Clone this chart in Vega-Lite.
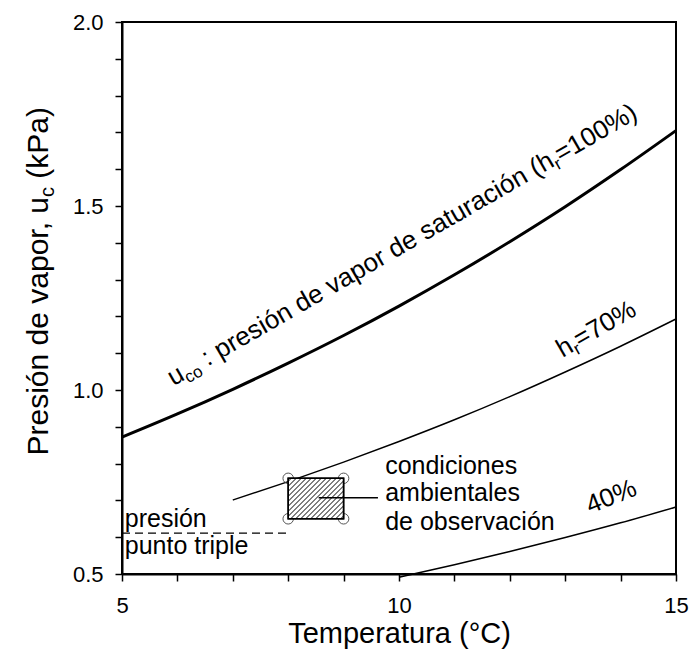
{
  "$schema": "https://vega.github.io/schema/vega-lite/v6.json",
  "width": 554,
  "height": 552,
  "autosize": {"type": "none"},
  "padding": {"left": 122, "top": 22, "right": 14, "bottom": 87},
  "config": {
    "font": "Liberation Sans",
    "view": {"stroke": "black", "strokeWidth": 2},
    "axis": {"domainColor": "black", "domainWidth": 2, "tickColor": "black", "tickWidth": 1.5, "labelColor": "black", "labelFontSize": 22, "labelFont": "Liberation Sans", "titleFont": "Liberation Sans", "titleFontSize": 29, "titleFontWeight": "normal", "titleColor": "black", "grid": false, "labelFlush": false},
    "text": {"font": "Liberation Sans", "fontSize": 26, "color": "black"}
  },
  "datasets": {
    "sat": [
      {"x": 5, "y": 0.872}, {"x": 6, "y": 0.935}, {"x": 7, "y": 1.002}, {"x": 8, "y": 1.073}, {"x": 9, "y": 1.148}, {"x": 10, "y": 1.228}, {"x": 11, "y": 1.313}, {"x": 12, "y": 1.403}, {"x": 13, "y": 1.498}, {"x": 14, "y": 1.599}, {"x": 15, "y": 1.705}
    ],
    "h70": [
      {"x": 7, "y": 0.701}, {"x": 8, "y": 0.751}, {"x": 9, "y": 0.804}, {"x": 10, "y": 0.860}, {"x": 11, "y": 0.919}, {"x": 12, "y": 0.982}, {"x": 13, "y": 1.049}, {"x": 14, "y": 1.119}, {"x": 15, "y": 1.193}
    ],
    "h40": [
      {"x": 10, "y": 0.491}, {"x": 11, "y": 0.525}, {"x": 12, "y": 0.561}, {"x": 13, "y": 0.599}, {"x": 14, "y": 0.639}, {"x": 15, "y": 0.682}
    ],
    "corners": [
      {"x": 8, "y": 0.65}, {"x": 9, "y": 0.65}, {"x": 8, "y": 0.76}, {"x": 9, "y": 0.76}
    ],
    "box": [{"x": 8, "x2": 9, "y": 0.65, "y2": 0.76}],
    "hatch": [
      {"x": 8, "y": 0.7519, "x2": 8.0542, "y2": 0.76},
      {"x": 8, "y": 0.7383, "x2": 8.1444, "y2": 0.76},
      {"x": 8, "y": 0.7247, "x2": 8.2347, "y2": 0.76},
      {"x": 8, "y": 0.7111, "x2": 8.3249, "y2": 0.76},
      {"x": 8, "y": 0.6976, "x2": 8.4152, "y2": 0.76},
      {"x": 8, "y": 0.6840, "x2": 8.5054, "y2": 0.76},
      {"x": 8, "y": 0.6704, "x2": 8.5957, "y2": 0.76},
      {"x": 8, "y": 0.6568, "x2": 8.6859, "y2": 0.76},
      {"x": 8.0451, "y": 0.65, "x2": 8.7762, "y2": 0.76},
      {"x": 8.1354, "y": 0.65, "x2": 8.8664, "y2": 0.76},
      {"x": 8.2256, "y": 0.65, "x2": 8.9567, "y2": 0.76},
      {"x": 8.3159, "y": 0.65, "x2": 9, "y2": 0.7530},
      {"x": 8.4061, "y": 0.65, "x2": 9, "y2": 0.7394},
      {"x": 8.4964, "y": 0.65, "x2": 9, "y2": 0.7258},
      {"x": 8.5866, "y": 0.65, "x2": 9, "y2": 0.7122},
      {"x": 8.6769, "y": 0.65, "x2": 9, "y2": 0.6986},
      {"x": 8.7671, "y": 0.65, "x2": 9, "y2": 0.6851},
      {"x": 8.8574, "y": 0.65, "x2": 9, "y2": 0.6715},
      {"x": 8.9477, "y": 0.65, "x2": 9, "y2": 0.6579}
    ],
    "labels": [
      {"t": "presión", "x": 5.05, "y": 0.628},
      {"t": "punto triple", "x": 5.05, "y": 0.553},
      {"t": "condiciones", "x": 9.75, "y": 0.772},
      {"t": "ambientales", "x": 9.75, "y": 0.698},
      {"t": "de observación", "x": 9.75, "y": 0.620}
    ],
    "satlab": [{"x": 5.93, "y": 1.01}],
    "h70lab": [{"x": 12.95, "y": 1.087}],
    "ytitle": [{"x": 3.664, "y": 1.5245}]
  },
  "encoding": {
    "x": {"field": "x", "type": "quantitative", "scale": {"domain": [5, 15], "nice": false, "zero": false},
      "axis": {"title": "Temperatura (°C)", "values": [5, 6, 7, 8, 9, 10, 11, 12, 13, 14, 15], "labelExpr": "datum.value % 5 === 0 ? datum.label : ''", "tickSize": 7, "labelPadding": 14, "titlePadding": 3,
        "encode": {"ticks": {"update": {"y2": {"signal": "datum.value % 5 === 0 ? 14 : 7"}}}}}},
    "y": {"field": "y", "type": "quantitative", "scale": {"domain": [0.5, 2.0], "nice": false, "zero": false},
      "axis": {"title": null, "values": [0.5, 0.6, 0.7, 0.8, 0.9, 1.0, 1.1, 1.2, 1.3, 1.4, 1.5, 1.6, 1.7, 1.8, 1.9, 2.0], "labelExpr": "abs(datum.value * 2 - round(datum.value * 2)) < 0.01 ? format(datum.value, '.1f') : ''", "tickSize": 7, "labelPadding": 12,
        "encode": {"ticks": {"update": {"x2": {"signal": "abs(datum.value * 2 - round(datum.value * 2)) < 0.01 ? -14 : -7"}}}}}}
  },
  "layer": [
    {
      "data": {"name": "sat"},
      "mark": {"type": "line", "color": "black", "strokeWidth": 3, "interpolate": "monotone"}
    },
    {
      "data": {"name": "h70"},
      "mark": {"type": "line", "color": "black", "strokeWidth": 1.5, "interpolate": "monotone"}
    },
    {
      "data": {"name": "h40"},
      "mark": {"type": "line", "color": "black", "strokeWidth": 1.5, "interpolate": "monotone"}
    },
    {
      "data": {"values": [{"x": 5, "x2": 8, "y": 0.611}]},
      "mark": {"type": "rule", "color": "black", "strokeWidth": 1.2, "strokeDash": [8, 5]},
      "encoding": {"x2": {"field": "x2"}}
    },
    {
      "data": {"name": "corners"},
      "mark": {"type": "point", "shape": "circle", "filled": false, "size": 110, "stroke": "#555555", "strokeWidth": 1, "opacity": 1}
    },
    {
      "data": {"name": "box"},
      "mark": {"type": "rect", "fill": "white", "stroke": "black", "strokeWidth": 1.5},
      "encoding": {"x2": {"field": "x2"}, "y2": {"field": "y2"}}
    },
    {
      "data": {"name": "hatch"},
      "mark": {"type": "rule", "color": "black", "strokeWidth": 1},
      "encoding": {"x2": {"field": "x2"}, "y2": {"field": "y2"}}
    },
    {
      "data": {"name": "box"},
      "mark": {"type": "rect", "fill": null, "filled": false, "stroke": "black", "strokeWidth": 1.5},
      "encoding": {"x2": {"field": "x2"}, "y2": {"field": "y2"}}
    },
    {
      "data": {"values": [{"x": 8.55, "x2": 9.62, "y": 0.707}]},
      "mark": {"type": "rule", "color": "black", "strokeWidth": 1.5},
      "encoding": {"x2": {"field": "x2"}}
    },
    {
      "data": {"name": "labels"},
      "mark": {"type": "text", "align": "left", "baseline": "alphabetic", "fontSize": 25},
      "encoding": {"text": {"field": "t"}}
    },
    {
      "data": {"name": "satlab"},
      "mark": {"type": "text", "align": "left", "baseline": "alphabetic", "angle": 330, "text": "u"}
    },
    {
      "data": {"name": "satlab"},
      "mark": {"type": "text", "align": "left", "baseline": "alphabetic", "angle": 330, "fontSize": 17, "dx": 14.5, "dy": 5, "text": "co"}
    },
    {
      "data": {"name": "satlab"},
      "mark": {"type": "text", "align": "left", "baseline": "alphabetic", "angle": 330, "dx": 39.6, "text": ": presión de vapor de saturación (h"}
    },
    {
      "data": {"name": "satlab"},
      "mark": {"type": "text", "align": "left", "baseline": "alphabetic", "angle": 330, "fontSize": 17, "dx": 441.4, "dy": 5, "text": "r"}
    },
    {
      "data": {"name": "satlab"},
      "mark": {"type": "text", "align": "left", "baseline": "alphabetic", "angle": 330, "dx": 447.1, "text": "=100%)"}
    },
    {
      "data": {"name": "h70lab"},
      "mark": {"type": "text", "align": "left", "baseline": "alphabetic", "angle": 330, "text": "h"}
    },
    {
      "data": {"name": "h70lab"},
      "mark": {"type": "text", "align": "left", "baseline": "alphabetic", "angle": 330, "fontSize": 17, "dx": 14.5, "dy": 5, "text": "r"}
    },
    {
      "data": {"name": "h70lab"},
      "mark": {"type": "text", "align": "left", "baseline": "alphabetic", "angle": 330, "dx": 20.1, "text": "=70%"}
    },
    {
      "data": {"values": [{"x": 13.45, "y": 0.663}]},
      "mark": {"type": "text", "align": "left", "baseline": "alphabetic", "angle": 338, "text": "40%"}
    },
    {
      "data": {"name": "ytitle"},
      "mark": {"type": "text", "align": "right", "baseline": "alphabetic", "angle": 270, "fontSize": 30, "text": "Presión de vapor, u"}
    },
    {
      "data": {"name": "ytitle"},
      "mark": {"type": "text", "align": "left", "baseline": "alphabetic", "angle": 270, "fontSize": 20, "dy": 6, "text": "c"}
    },
    {
      "data": {"name": "ytitle"},
      "mark": {"type": "text", "align": "left", "baseline": "alphabetic", "angle": 270, "fontSize": 30, "dx": 18.3, "text": "(kPa)"}
    }
  ]
}
